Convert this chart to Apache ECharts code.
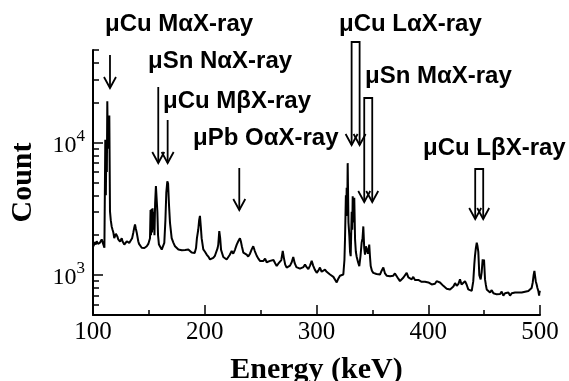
<!DOCTYPE html>
<html>
<head>
<meta charset="utf-8">
<script src="https://cdn.jsdelivr.net/npm/echarts@6/dist/echarts.min.js"></script>
<style>
  html, body { margin: 0; padding: 0; background: #ffffff; }
  #chart { width: 569px; height: 381px; }
</style>
</head>
<body>
<div id="chart"></div>
<script>
// Gamma/X-ray spectrum: energy (keV) and counts per channel
const energy = [
  100.5, 101.5, 102.5, 103.3, 104.5, 106.3, 107.0, 107.8, 108.8, 110.2,
  110.7, 111.0, 111.5, 111.9, 112.4, 112.8, 113.3, 113.7, 114.2, 114.6,
  115.2, 115.9, 116.7, 117.5, 118.2, 119.0, 119.7, 120.5, 121.2, 121.9,
  122.6, 123.4, 124.2, 125.0, 125.7, 126.4, 127.1, 128.0, 128.6, 129.5,
  130.2, 131.6, 132.4, 133.1, 134.0, 135.0, 136.1, 137.0, 137.6, 138.3,
  139.1, 140.5, 141.2, 142.1, 143.6, 145.0, 146.0, 147.0, 148.1, 149.5,
  150.3, 151.0, 151.5, 151.9, 152.4, 152.8, 153.3, 153.7, 154.3, 155.0,
  155.6, 156.3, 157.0, 157.6, 158.2, 159.0, 160.0, 161.5, 162.7, 163.8,
  164.8, 165.6, 166.5, 167.2, 168.0, 168.9, 170.4, 171.9, 173.4, 174.9,
  176.4, 177.9, 179.5, 181.0, 182.5, 183.8, 185.3, 186.8, 188.3, 189.8,
  191.0, 192.2, 193.0, 194.2, 195.0, 195.7, 196.5, 197.2, 198.7, 200.2,
  201.7, 203.2, 204.7, 206.2, 207.6, 209.1, 210.5, 211.5, 212.1, 213.0,
  213.8, 214.6, 216.6, 218.1, 219.6, 221.0, 222.3, 224.1, 225.5, 227.1,
  228.6, 230.0, 230.8, 231.5, 232.3, 233.2, 234.5, 236.0, 237.5, 238.9,
  240.5, 242.0, 243.4, 244.8, 246.5, 248.0, 249.4, 251.0, 252.5, 254.0,
  255.4, 257.0, 258.5, 260.0, 261.5, 263.0, 264.4, 265.8, 267.3, 268.5,
  269.8, 270.8, 272.0, 273.3, 274.8, 276.3, 277.8, 279.2, 280.5, 282.0,
  283.7, 285.2, 286.8, 288.3, 289.7, 291.2, 292.7, 294.2, 295.7, 297.0,
  298.5, 300.2, 301.6, 303.1, 304.6, 306.1, 307.6, 309.1, 310.6, 312.1,
  313.6, 315.1, 316.6, 318.1, 319.5, 321.0, 322.5, 324.0, 325.0, 325.5,
  326.3, 326.7, 327.0, 327.5, 327.9, 328.6, 329.4, 330.0, 330.6, 331.5,
  332.0, 332.4, 333.1, 333.8, 334.5, 335.2, 336.0, 337.2, 338.3, 339.4,
  340.4, 341.2, 341.9, 342.7, 343.4, 344.2, 344.9, 346.0, 346.7, 347.2,
  347.8, 348.5, 349.6, 350.8, 352.2, 353.7, 355.3, 356.8, 358.3, 359.8,
  361.3, 362.8, 364.3, 365.8, 367.3, 368.7, 370.2, 371.8, 373.2, 374.7,
  376.2, 377.8, 379.3, 380.7, 382.2, 383.7, 385.2, 386.6, 388.1, 389.6,
  391.1, 392.6, 394.1, 395.6, 397.1, 398.6, 400.1, 401.6, 403.1, 404.5,
  406.0, 407.5, 409.0, 410.5, 412.0, 413.5, 415.0, 416.5, 418.0, 419.5,
  421.0, 422.5, 424.0, 425.5, 427.0, 428.4, 429.8, 431.3, 432.9, 434.3,
  435.8, 437.3, 438.9, 440.3, 441.2, 441.8, 442.6, 443.4, 444.1, 444.8,
  445.7, 446.9, 447.8, 448.7, 449.3, 449.9, 450.8, 451.5, 452.3, 453.8,
  455.3, 456.8, 458.3, 459.8, 461.3, 462.8, 464.3, 465.7, 467.2, 468.7,
  470.2, 471.7, 473.2, 474.7, 476.2, 477.7, 479.2, 480.7, 482.2, 483.6,
  485.1, 486.6, 488.1, 489.6, 491.1, 492.5, 493.5, 494.3, 495.0, 495.5,
  496.2, 497.0, 497.7, 498.5, 499.2, 499.6, 500.0
];

const counts = [
  1650, 1780, 1700, 1800, 1720, 1760, 1700, 1860, 1750, 1610,
  1650, 10500, 4000, 9000, 6000, 20500, 9000, 12000, 15000, 16000,
  3030, 2600, 2330, 2200, 2100, 1900, 1920, 2050, 2100, 1950,
  1860, 1800, 1790, 1850, 1900, 1800, 1760, 1700, 1650, 1700,
  1800, 1860, 1750, 1700, 1800, 1900, 2100, 2300, 2410, 2250,
  2100, 1800, 1720, 1700, 1610, 1563, 1600, 1650, 1650, 1720,
  1760, 1900, 3100, 2000, 3150, 2100, 3200, 2200, 3000, 2000,
  3500, 4700, 4600, 3000, 2000, 1700, 1650, 1560, 1600, 1750,
  2600, 4200, 5100, 4900, 3400, 2480, 1900, 1760, 1650, 1610,
  1560, 1563, 1540, 1580, 1550, 1530, 1560, 1520, 1480, 1430,
  1470, 1600, 1900, 2210, 2600, 2800, 2300, 1900, 1563, 1500,
  1430, 1380, 1313, 1330, 1350, 1400, 1430, 1600, 1700, 2150,
  1900, 1550, 1370, 1340, 1313, 1350, 1420, 1520, 1450, 1560,
  1700, 1800, 1850, 1900, 1800, 1650, 1480, 1520, 1430, 1380,
  1450, 1563, 1650, 1520, 1400, 1330, 1280, 1300, 1280, 1330,
  1250, 1220, 1280, 1240, 1300, 1230, 1170, 1220, 1200, 1300,
  1520, 1350, 1200, 1140, 1120, 1180, 1250, 1370, 1230, 1150,
  1140, 1120, 1100, 1150, 1200, 1150, 1110, 1180, 1280, 1180,
  1100, 1040, 1080, 1140, 1060, 1080, 1100, 1060, 1040, 1010,
  990, 970, 960, 880, 940, 990, 1000, 1010, 1300, 1860,
  4000, 2800, 4560, 3000, 7000, 2500, 1970, 1500, 1390, 3000,
  2200, 3940, 2500, 3830, 1860, 1500, 1370, 1250, 1170, 1400,
  1760, 1900, 2330, 1600, 1430, 1650, 1650, 1450, 1600, 1700,
  1400, 1170, 1080, 1040, 1060, 1020, 990, 1010, 1080, 1140,
  1030, 990, 1000, 980, 960, 990, 1030, 1010, 940, 900,
  930, 960, 990, 1040, 960, 940, 930, 970, 920, 930,
  920, 900, 890, 880, 890, 870, 880, 851, 850, 830,
  860, 900, 928, 880, 860, 830, 810, 790, 800, 780,
  770, 820, 870, 830, 860, 928, 850, 830, 900, 850,
  780, 770, 760, 900, 1200, 1390, 1600, 1760, 1650, 1500,
  1000, 928, 1050, 1313, 1200, 1313, 928, 850, 780, 760,
  740, 770, 730, 740, 716, 740, 720, 750, 700, 730,
  720, 740, 700, 730, 710, 740, 720, 740, 730, 740,
  720, 750, 760, 760, 780, 800, 880, 1000, 1075, 1050,
  900, 850, 800, 760, 700, 760, 740
];

// Axis tick values
const xMajorTicks = [100, 200, 300, 400, 500];
const xMinorTicks = [150, 250, 350, 450];
const yLabelValues = [1000, 10000];
const yMinorTicks = [600, 700, 800, 900, 2000, 3000, 4000, 5000, 6000, 7000, 8000, 9000, 20000, 30000, 40000, 50000];

// Peak annotations
const peakLabels = ['μCu MαX-ray', 'μSn NαX-ray', 'μCu MβX-ray', 'μPb OαX-ray', 'μCu LαX-ray', 'μSn MαX-ray', 'μCu LβX-ray'];
const peakEnergies = [115.2, 158.4, 166.8, 230.9, 335.0, 346.3, 445.6];

// Layout of the annotations (pixels): label left/baseline, arrow top/tip, arrow kind
const annotationLayout = [
  { tx: 105, ty: 33,  top: 55,  tip: 88,  kind: 'line' },
  { tx: 148, ty: 70,  top: 87,  tip: 163, kind: 'line' },
  { tx: 163, ty: 110, top: 120, tip: 163, kind: 'line' },
  { tx: 193, ty: 147, top: 168, tip: 210, kind: 'line' },
  { tx: 339, ty: 33,  top: 42,  tip: 145, kind: 'hollow' },
  { tx: 365, ty: 85,  top: 98,  tip: 202, kind: 'hollow' },
  { tx: 423, ty: 157, top: 169, tip: 219, kind: 'hollow' }
];

const serif = '"Liberation Serif", "Times New Roman", serif';
const sans = '"Liberation Sans", Arial, sans-serif';

const chart = echarts.init(document.getElementById('chart'), null, { renderer: 'canvas' });

const axisLineStyle = { color: '#000', width: 2 };

chart.setOption({
  animation: false,
  backgroundColor: '#ffffff',
  grid: { left: 93, right: 29, top: 50, bottom: 66, containLabel: false, outerBoundsMode: 'none' },
  xAxis: [
    {
      type: 'value', min: 100, max: 500, interval: 100,
      axisLine: { show: true, lineStyle: axisLineStyle },
      axisTick: { show: true, inside: true, length: 10, lineStyle: { color: '#000', width: 1.5 }, customValues: xMajorTicks },
      axisLabel: { show: true, margin: 5, color: '#000', fontFamily: serif, fontSize: 25, customValues: xMajorTicks },
      splitLine: { show: false },
      name: 'Energy (keV)', nameLocation: 'middle', nameGap: 40,
      nameTextStyle: { fontFamily: serif, fontWeight: 'bold', fontSize: 30, color: '#000' }
    },
    {
      type: 'value', min: 100, max: 500, interval: 50, position: 'bottom',
      axisLine: { show: false },
      axisTick: { show: true, inside: true, length: 5, lineStyle: { color: '#000', width: 1.5 }, customValues: xMinorTicks },
      axisLabel: { show: false },
      splitLine: { show: false }
    }
  ],
  yAxis: [
    {
      type: 'log', logBase: 10, min: 500, max: 50000,
      axisLine: { show: true, lineStyle: axisLineStyle },
      axisTick: { show: true, inside: true, length: 10, lineStyle: { color: '#000', width: 1.5 }, customValues: yLabelValues },
      axisLabel: {
        show: true, margin: 8, customValues: yLabelValues,
        formatter: function (v) {
          return '{b|10}{s|' + Math.round(Math.log10(v)) + '}';
        },
        rich: {
          b: { fontFamily: serif, fontSize: 24, color: '#000', lineHeight: 30, verticalAlign: 'bottom' },
          s: { fontFamily: serif, fontSize: 17, color: '#000', lineHeight: 30, verticalAlign: 'top' }
        }
      },
      splitLine: { show: false },
      name: 'Count', nameLocation: 'middle', nameGap: 55, nameRotate: 90,
      nameTextStyle: { fontFamily: serif, fontWeight: 'bold', fontSize: 30, color: '#000' }
    },
    {
      type: 'log', logBase: 10, min: 500, max: 50000, position: 'left',
      axisLine: { show: false },
      axisTick: { show: true, inside: true, length: 6, lineStyle: { color: '#000', width: 1.5 }, customValues: yMinorTicks },
      axisLabel: { show: false },
      splitLine: { show: false }
    }
  ],
  series: [
    {
      type: 'line',
      xAxisIndex: 0, yAxisIndex: 0,
      data: energy.map(function (e, i) { return [e, counts[i]]; }),
      showSymbol: false, symbol: 'none',
      lineStyle: { color: '#000', width: 2 },
      z: 3
    }
  ]
});

// Peak markers: arrows placed at the peak energies, labels above them
function buildAnnotations() {
  const items = [];
  const headW = 6, headH = 11;
  const stroke = { stroke: '#000', lineWidth: 1.8, fill: null };
  peakLabels.forEach(function (label, i) {
    const lay = annotationLayout[i];
    const x = chart.convertToPixel({ xAxisIndex: 0 }, peakEnergies[i]);
    items.push({
      type: 'text', x: lay.tx, y: lay.ty - 8.5, silent: true,
      style: { text: label, fontFamily: sans, fontWeight: 'bold', fontSize: 24, fill: '#000', verticalAlign: 'middle', align: 'left' }
    });
    if (lay.kind === 'line') {
      items.push({ type: 'polyline', silent: true, shape: { points: [[x, lay.top], [x, lay.tip]] }, style: stroke });
      items.push({ type: 'polyline', silent: true, shape: { points: [[x - headW, lay.tip - headH], [x, lay.tip], [x + headW, lay.tip - headH]] }, style: stroke });
    } else {
      const x1 = x - 4, x2 = x + 4;
      items.push({ type: 'polyline', silent: true, shape: { points: [[x1, lay.tip], [x1, lay.top], [x2, lay.top], [x2, lay.tip]] }, style: stroke });
      items.push({ type: 'polyline', silent: true, shape: { points: [[x1 - headW, lay.tip - headH], [x1, lay.tip], [x1 + headW, lay.tip - headH]] }, style: stroke });
      items.push({ type: 'polyline', silent: true, shape: { points: [[x2 - headW, lay.tip - headH], [x2, lay.tip], [x2 + headW, lay.tip - headH]] }, style: stroke });
    }
  });
  return items;
}

chart.setOption({ graphic: buildAnnotations() });
</script>
</body>
</html>
